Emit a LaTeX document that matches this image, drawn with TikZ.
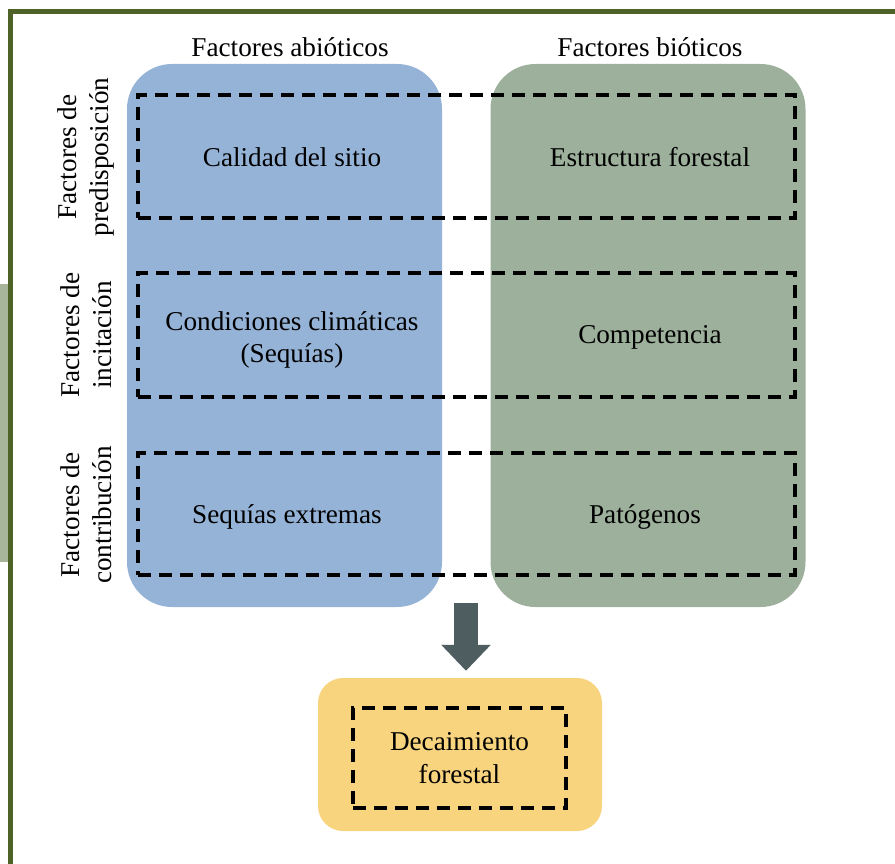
\documentclass[tikz,border=0pt]{standalone}
\usepackage{fontspec}
\setmainfont{Liberation Serif}
\usepackage{xcolor}
\usetikzlibrary{arrows.meta,calc,positioning}
\definecolor{frameolive}{HTML}{4F6228}
\definecolor{sidegray}{HTML}{A9B59B}
\definecolor{abioblue}{HTML}{95B3D7}
\definecolor{biogreen}{HTML}{9CB09B}
\definecolor{decayyellow}{HTML}{F9D47F}
\definecolor{arrowslate}{HTML}{4E5D60}
\tikzset{%
	column/.style   = {rectangle, rounded corners = 45pt, minimum width = 315pt, minimum height = 543pt}, % Columns
	rowbox/.style   = {draw, rectangle, dash pattern = on 13pt off 8pt, line width = 3.5pt, minimum width = 657pt}, % Rows
	txt/.style      = {align=center, font=\fontsize{27.2}{32.5}\selectfont}, % Text
	rowlabel/.style = {txt, rotate=90}, % Row labels
	bigarrow/.style = {draw=arrowslate, line width = 24pt, -{Triangle[width=48pt,length=26pt]}},
}

\begin{document}
\begin{tikzpicture}[x=1pt,y=-1pt]
	\useasboundingbox (0,0) rectangle (895,864);
	% frame
	\fill[sidegray] (0,284) rectangle (8,562);
	\draw[frameolive, line width=5pt] (10.5,864) -- (10.5,11.5) -- (895,11.5);
	% columns
	\node[column, fill=abioblue] (abio) at (284.5,335.5) {};
	\node[column, fill=biogreen] (bio) at (648,335.5) {};
	\node[txt] (abiohead) at (290,47) {Factores abióticos};
	\node[txt] (biohead) at (650,47) {Factores bióticos};
	% rows
	\node[rowbox, minimum height = 123pt] (pred) at (466.5,156.5) {};
	\node[rowbox, minimum height = 124pt] (inc) at (466.5,335) {};
	\node[rowbox, minimum height = 122pt] (con) at (466.5,514) {};
	\node[rowlabel] at (86,157) {Factores de\\predisposición};
	\node[rowlabel] at (86,335) {Factores de\\incitación};
	\node[rowlabel] at (86,515) {Factores de\\contribución};
	\node[txt] (sitio) at (292,157) {Calidad del sitio};
	\node[txt] (estr) at (650,157) {Estructura forestal};
	\node[txt] (clima) at (292,340) {Condiciones climáticas\\(Sequías)};
	\node[txt] (comp) at (650,337) {Competencia};
	\node[txt] (seq) at (287,517) {Sequías extremas};
	\node[txt] (pat) at (645,517) {Patógenos};
	% result
	\node[rectangle, rounded corners = 25pt, fill=decayyellow, minimum width = 284pt, minimum height = 153pt] (decay) at (460,754.5) {};
	\node[rowbox, minimum width = 213pt, minimum height = 100pt] (decin) at (459.5,758) {};
	\node[txt] (dectxt) at (decin) {Decaimiento\\forestal};
	\coordinate (split) at (466,603);
	\draw[bigarrow, shorten >= 7pt] (split) -- (split |- decay.north);
\end{tikzpicture}
\end{document}
